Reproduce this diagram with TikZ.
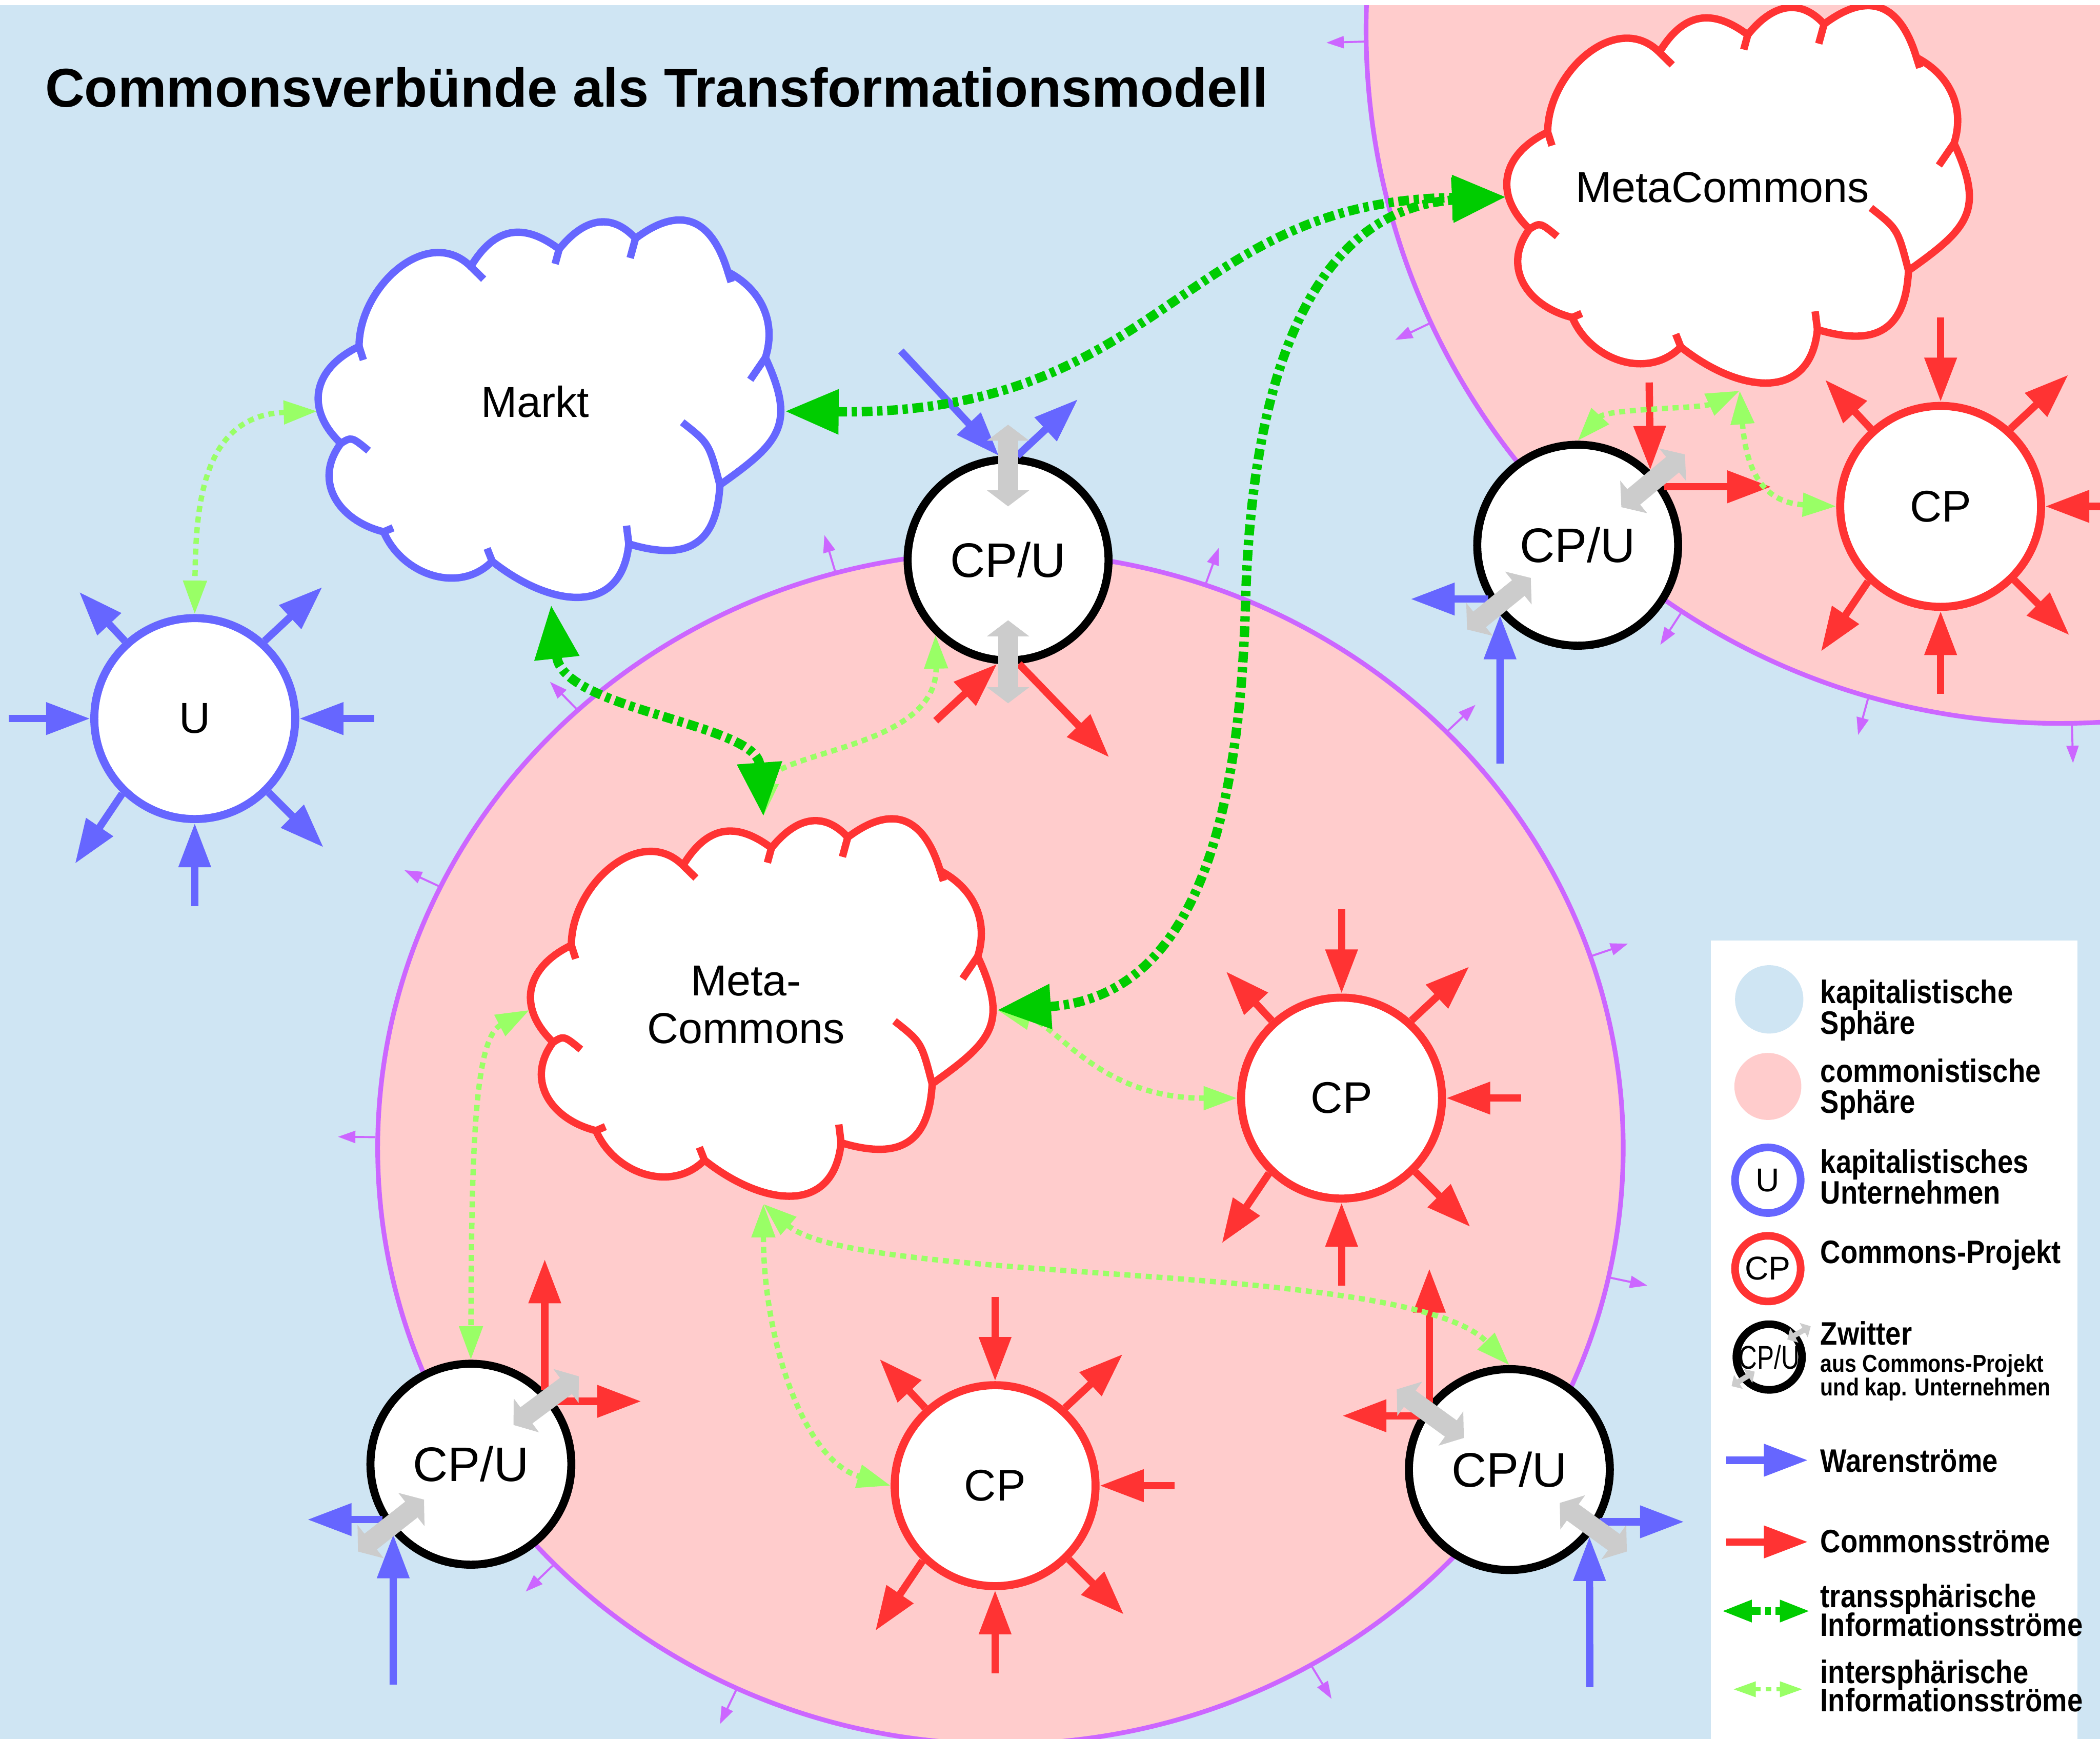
\documentclass[tikz,border=0pt]{standalone}
\usepackage{fontspec}
\setmainfont{Liberation Sans}
\newfontfamily\legfont[FakeStretch=0.86]{Liberation Sans}
\usetikzlibrary{arrows.meta,calc,shapes.geometric}

\definecolor{skyblue}{RGB}{207,229,243}
\definecolor{pinkbg}{RGB}{255,204,204}
\definecolor{sphpurple}{RGB}{204,102,255}
\definecolor{wblue}{RGB}{102,102,255}
\definecolor{cred}{RGB}{255,51,51}
\definecolor{tgreen}{RGB}{0,204,0}
\definecolor{igreen}{RGB}{153,255,102}
\definecolor{swapgray}{RGB}{204,204,204}

\newcommand{\tightlines}{\lineskiplimit=-5pt\relax}

% cloud outline, drawn around the centre of an (invisible) cloudbox node
\newcommand{\cloudat}[2]{%
  \begin{scope}[shift={($(#1)+(-17.4mm,14.4mm)$)}]
    \filldraw[cloudline, fill=white, draw=#2] (30.6,95.6)
      .. controls (30.6,50.6) and (82.2,4.2) .. (114,36)
      .. controls (131.7,6.8) and (152.8,2.6) .. (180,23)
      .. controls (197.4,1.2) and (218,-5.7) .. (237,15)
      .. controls (270.6,-10.2) and (293.8,-0.3) .. (306,40)
      .. controls (330.9,52.9) and (342.4,77.4) .. (334,104)
      .. controls (357.1,154) and (345.1,167.1) .. (300,199)
      .. controls (297.8,244) and (275.2,256) .. (232,243)
      .. controls (226.5,298) and (172.9,290.1) .. (130,256)
      .. controls (105.5,280.9) and (62.7,266.2) .. (49,234)
      .. controls (15,225.6) and (-4,196) .. (17,168)
      .. controls (-10.4,141.8) and (-3.6,112) .. (30.6,95.6) -- cycle;
    \draw[cloudline, draw=#2]
      (30.6,95.6) -- (33.8,105.7)
      (114,36) -- (123.6,45.4)
      (180,23) -- (177,34)
      (237,15) -- (233,29.6)
      (306,40) -- (308.4,47.6)
      (334,104) -- (322.7,120.5)
      (271.9,152.2) .. controls (292,168) .. (300,199)
      (230.3,229.4) -- (232,243)
      (130,256) -- (126.2,246.4)
      (49,234) -- (56,231)
      (17,168) .. controls (25,163) .. (37.7,173.4);
  \end{scope}}

% the six flows every CP and U has
\newcommand{\flowring}[2]{%
  \draw[flow, #2] ([xshift=13.4mm]#1.center) -- (#1.east);
  \draw[flow, #2] ([yshift=-14mm]#1.center) -- (#1.south);
  \draw[flow, #2] (#1.132) -- ++(133:5mm);
  \draw[flow, #2] (#1.48) -- ++(43:5.9mm);
  \draw[flow, #2] (#1.226) -- ++(236:6.3mm);
  \draw[flow, #2] (#1.315) -- ++(315:5.8mm);}

\begin{document}
\begin{tikzpicture}[x=0.1mm, y=-0.1mm,
    flow/.style={line width=0.55mm, -{Triangle[length=3.3mm,width=2.3mm]}},
    swap/.style={swapgray, line width=1.5mm,
                 {Triangle[length=1.2mm,width=3.1mm]}-{Triangle[length=1.2mm,width=3.1mm]}},
    miniswap/.style={swapgray, line width=0.4mm,
                 {Triangle[length=0.6mm,width=1.2mm]}-{Triangle[length=0.6mm,width=1.2mm]}},
    trans/.style={tgreen, line width=0.7mm, dash pattern=on 0.8mm off 0.35mm on 0.4mm off 0.35mm,
                 {Triangle[length=4mm,width=3.2mm]}-{Triangle[length=4mm,width=3.2mm]}},
    inter/.style={igreen, line width=0.4mm, dash pattern=on 0.45mm off 0.35mm,
                 {Triangle[length=2.5mm,width=1.7mm]}-{Triangle[length=2.5mm,width=1.7mm]}},
    legtrans/.style={tgreen, line width=0.6mm, dash pattern=on 0.8mm off 0.35mm on 0.4mm off 0.35mm,
                 {Triangle[length=2.3mm,width=1.5mm]}-{Triangle[length=2.3mm,width=1.5mm]}},
    leginter/.style={igreen, line width=0.3mm, dash pattern=on 0.45mm off 0.35mm,
                 {Triangle[length=1.7mm,width=1.1mm]}-{Triangle[length=1.7mm,width=1.1mm]}},
    sphtick/.style={sphpurple, line width=0.15mm, -{Triangle[length=1.3mm,width=0.9mm]}},
    sphere/.style={fill=pinkbg, draw=sphpurple, line width=0.35mm, inner sep=0pt},
    cloudline/.style={line width=0.55mm, line join=round},
    cloudbox/.style={ellipse, minimum width=34.8mm, minimum height=28.8mm, inner sep=0pt},
    cloudtext/.style={font=\fontsize{9.2}{10.2}\selectfont, align=center, inner sep=0pt},
    ring/.style={circle, minimum size=15mm, inner sep=0pt, line width=0.6mm, fill=white},
    unode/.style={ring, draw=wblue, font=\fontsize{9.2}{10}\selectfont},
    cpnode/.style={ring, draw=cred, font=\fontsize{9.4}{10}\selectfont},
    cpunode/.style={ring, draw=black, font=\fontsize{10.3}{11}\selectfont},
    legring/.style={ring, minimum size=4.9mm, line width=0.57mm, font=\fontsize{7}{8}\selectfont},
    legtext/.style={anchor=base west, align=left, inner sep=0pt,
                    font=\legfont\bfseries\fontsize{6.9}{6.55}\selectfont\tightlines}
  ]
  \useasboundingbox (0,0) rectangle (1568,1298);
  \fill[white] (0,0) rectangle (1568,1298);
  \clip (0,4) rectangle (1568,1298);
  \fill[skyblue] (0,0) rectangle (1568,1298);

  % spheres
  \node[sphere, circle, minimum size=103.6mm] (msph) at (1538,22) {};
  \node[sphere, ellipse, minimum width=93mm, minimum height=89mm] (csph) at (747,857) {};
  \foreach \a in {106.5,70,134.3,43.1,155.1,18.7,179.4,348.1,223.8,244.4,301.3}
    \draw[sphtick] (csph.\a) -- ++(\a:2.8mm);
  \foreach \a in {181.7,205.6,237,254.7,271.6}
    \draw[sphtick] (msph.\a) -- ++(\a:2.8mm);

  \node[anchor=base west, inner sep=0pt, font=\bfseries\fontsize{11.6}{13}\selectfont] (title)
    at (33,80) {Commonsverbünde als Transformationsmodell};

  % clouds
  \node[cloudbox] (markt) at (411.5,307) {};
  \cloudat{markt}{wblue}
  \node[cloudtext] (marktlbl) at ([shift={(-1.2mm,0.7mm)}]markt.center) {Markt};
  \node[cloudbox] (mcp) at (570,754) {};
  \cloudat{mcp}{cred}
  \node[cloudtext] (mcplbl) at ([shift={(-1.3mm,0.4mm)}]mcp.center) {Meta-\\Commons};
  \node[cloudbox] (mc) at (1299,147) {};
  \cloudat{mc}{cred}
  \node[cloudtext] (mclbl) at ([shift={(-1.3mm,0.7mm)}]mc.center) {MetaCommons};

  % projects and enterprises
  \node[unode] (u) at (145.4,536.4) {U};
  \node[cpnode] (cpr) at (1449,378) {CP};
  \node[cpnode] (cpm) at (1001.7,819.7) {CP};
  \node[cpnode] (cpb) at (743,1109) {CP};
  \node[cpunode] (cpuT) at (752.7,418) {CP/U};
  \node[cpunode] (cpuR) at (1178,407) {CP/U};
  \node[cpunode] (cpuL) at (351.6,1093) {CP/U};
  \node[cpunode] (cpuB) at (1127,1097) {CP/U};

  % flows
  \flowring{u}{wblue}
  \draw[flow, wblue] ([xshift=-13.9mm]u.center) -- (u.west);
  \foreach \n in {cpr,cpm,cpb}{
    \flowring{\n}{cred}
    \draw[flow, cred] ([yshift=14.1mm]\n.center) -- (\n.north);
  }
  \draw[flow, wblue] ([shift={(-8mm,15.6mm)}]cpuT.center) -- (cpuT.95);
  \draw[flow, wblue] (cpuT.85) -- ++(43:6.2mm);
  \draw[flow, cred] ([shift={(-5.4mm,-12mm)}]cpuT.center) -- (cpuT.264);
  \draw[flow, cred] (cpuT.276) -- ++(-46:9.7mm);

  \draw[flow, cred] ([shift={(5.34mm,12.15mm)}]cpuR.center) -- (cpuR.46);
  \draw[flow, cred] (cpuR.34) -- ++(0:8mm);
  \draw[flow, wblue] (cpuR.211) -- ++(180:5.8mm);
  \draw[flow, wblue] ([shift={(-5.8mm,-16.3mm)}]cpuR.center) -- (cpuR.222);

  \draw[flow, cred] (cpuL.45) -- ++(90:9.8mm);
  \draw[flow, cred] (cpuL.37) -- ++(0:6.5mm);
  \draw[flow, wblue] (cpuL.212) -- ++(180:5.6mm);
  \draw[flow, wblue] ([shift={(-5.8mm,-16.45mm)}]cpuL.center) -- (cpuL.222);

  \draw[flow, cred] (cpuB.140) -- ++(90:10mm);
  \draw[flow, cred] (cpuB.149) -- ++(180:5.8mm);
  \draw[flow, wblue] (cpuB.330) -- ++(0:6.3mm);
  \draw[flow, wblue] ([shift={(6mm,-16.24mm)}]cpuB.center) -- (cpuB.320);

  % hybrid switching
  \draw[swap] ([yshift=10.1mm]cpuT.center) -- ([yshift=4mm]cpuT.center);
  \draw[swap] ([yshift=-4.5mm]cpuT.center) -- ([yshift=-10.7mm]cpuT.center);
  \draw[swap] ([shift={(3.26mm,2.84mm)}]cpuR.center) -- ([shift={(8.01mm,6.78mm)}]cpuR.center);
  \draw[swap] ([shift={(-8.26mm,-6.29mm)}]cpuR.center) -- ([shift={(-3.5mm,-2.44mm)}]cpuR.center);
  \draw[swap] ([shift={(3.18mm,2.93mm)}]cpuL.center) -- ([shift={(8.06mm,6.56mm)}]cpuL.center);
  \draw[swap] ([shift={(-8.43mm,-6.52mm)}]cpuL.center) -- ([shift={(-3.5mm,-2.64mm)}]cpuL.center);
  \draw[swap] ([shift={(-8.41mm,5.99mm)}]cpuB.center) -- ([shift={(-3.4mm,2.36mm)}]cpuB.center);
  \draw[swap] ([shift={(3.76mm,-2.49mm)}]cpuB.center) -- ([shift={(8.77mm,-6.12mm)}]cpuB.center);

  % information flows
  \draw[inter] (markt.west) .. controls (150,310) and (146,380) .. (u.north);
  \draw[inter] (mcp.north) .. controls (575,560) and (700,560) .. (cpuT.226);
  \draw[inter] (mcp.west) .. controls (355,775) and (352,850) .. (cpuL.north);
  \draw[inter] (mcp.east) .. controls (790,765) and (820,820) .. (cpm.west);
  \draw[inter] (mcp.south) .. controls (570,1000) and (600,1090) .. (cpb.west);
  \draw[inter] (mcp.south) .. controls (640,960) and (1050,940) .. (cpuB.north);
  \draw[inter] (mc.south) .. controls (1270,305) and (1200,305) .. (cpuR.north);
  \draw[inter] (mc.south) .. controls (1303,340) and (1310,375) .. (cpr.west);

  \draw[trans] (markt.east) .. controls (870,310) and (880,150) .. (mc.west);
  \draw[trans] (markt.south) .. controls (420,530) and (565,540) .. (mcp.north);
  \draw[trans] (mcp.east) .. controls (880,745) and (925,640) .. (930,450)
                          .. controls (935,260) and (990,155) .. (mc.west);

  % legend
  \fill[white] (1277.5,702) rectangle (1551,1300);
  \fill[skyblue] (1321,746) circle (25.5);
  \fill[pinkbg] (1320,811) circle (25);
  \node[legring, draw=wblue] (legu) at (1320,881) {U};
  \node[legring, draw=cred] (legcp) at (1320,947) {CP};
  \node[legring, draw=black] (legcpu) at (1321,1013) {\scalebox{0.77}[1]{CP/U}};
  \draw[miniswap] ([shift={(1.35mm,1.32mm)}]legcpu.center) -- ([shift={(3.1mm,2.3mm)}]legcpu.center);
  \draw[miniswap] ([shift={(-2.81mm,-2.17mm)}]legcpu.center) -- ([shift={(-1.08mm,-1.09mm)}]legcpu.center);

  \coordinate (lw0) at (1289,1090);  \coordinate (lw1) at (1350,1090);
  \coordinate (lc0) at (1289,1151);  \coordinate (lc1) at (1350,1151);
  \coordinate (lt0) at (1285,1202.6); \coordinate (lt1) at (1352,1202.6);
  \coordinate (li0) at (1294,1261);  \coordinate (li1) at (1346,1261);
  \draw[flow, wblue] (lw0) -- (lw1);
  \draw[flow, cred] (lc0) -- (lc1);
  \draw[legtrans] (lt0) -- (lt1);
  \draw[leginter] (li0) -- (li1);

  % multi-line legend texts sit on the baseline of their last line
  \node[legtext] (lega) at (1358.6,772) {kapitalistische\\Sphäre};
  \node[legtext] (legb) at (1358.6,831) {commonistische\\Sphäre};
  \node[legtext] (legc) at (1358.6,898.6) {kapitalistisches\\Unternehmen};
  \node[legtext] (legd) at (1358.6,943) {Commons-Projekt};
  \node[legtext] (lege) at (1358.6,1004) {Zwitter};
  \node[legtext, font=\legfont\bfseries\fontsize{5.2}{5}\selectfont\tightlines] (legf)
    at (1358.6,1041.7) {aus Commons-Projekt\\und kap. Unternehmen};
  \node[legtext] (legg) at (1358.6,1099) {Warenströme};
  \node[legtext] (legh) at (1358.6,1159) {Commonsströme};
  \node[legtext, font=\legfont\bfseries\fontsize{6.9}{6}\selectfont\tightlines] (legi)
    at (1358.6,1221.2) {transsphärische\\Informationsströme};
  \node[legtext, font=\legfont\bfseries\fontsize{6.9}{6}\selectfont\tightlines] (legj)
    at (1358.6,1277.6) {intersphärische\\Informationsströme};
\end{tikzpicture}
\end{document}
